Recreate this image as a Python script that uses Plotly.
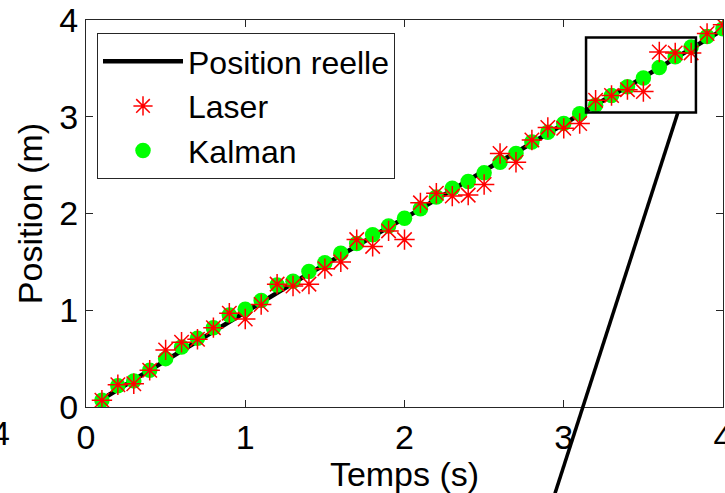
import plotly.graph_objects as go

# ---- data ----
temps = [round(0.1 * i, 1) for i in range(1, 41)]

position_reelle = [0.08, 0.18, 0.28, 0.38, 0.49, 0.59, 0.69, 0.79, 0.89, 0.98,
                   1.08, 1.18, 1.28, 1.38, 1.47, 1.57, 1.67, 1.77, 1.86, 1.95,
                   2.05, 2.15, 2.25, 2.34, 2.44, 2.54, 2.63, 2.73, 2.83, 2.92,
                   3.02, 3.12, 3.22, 3.31, 3.41, 3.51, 3.61, 3.71, 3.80, 3.90]

laser = [0.07, 0.23, 0.24, 0.38, 0.59, 0.67, 0.70, 0.82, 0.97, 0.91,
         1.06, 1.27, 1.25, 1.27, 1.43, 1.50, 1.73, 1.66, 1.82, 1.73,
         2.11, 2.21, 2.18, 2.19, 2.30, 2.62, 2.53, 2.76, 2.89, 2.88,
         2.93, 3.17, 3.22, 3.28, 3.26, 3.67, 3.66, 3.66, 3.86, 3.95]

kalman = [0.07, 0.22, 0.27, 0.38, 0.50, 0.62, 0.71, 0.82, 0.95, 1.01,
          1.10, 1.26, 1.30, 1.40, 1.49, 1.59, 1.69, 1.78, 1.87, 1.95,
          2.05, 2.17, 2.26, 2.33, 2.42, 2.53, 2.62, 2.74, 2.84, 2.93,
          3.03, 3.12, 3.22, 3.31, 3.40, 3.51, 3.62, 3.72, 3.83, 3.91]

tick_vals = [0, 1, 2, 3, 4]
tick_text = ["0", "1", "2", "3", "4"]
x_range = [0, 4]
y_range = [0, 4]

# zoom box and its connector (in data units)
zoom_box_t = [3.14, 3.83]
zoom_box_pos = [3.045, 3.82]
connector_t = [3.717, 2.945]
connector_pos = [3.045, -0.893]

FONT = "Liberation Sans, Arial, Helvetica, sans-serif"
FS = 34

fig = go.Figure()

fig.add_trace(go.Scatter(
    x=temps, y=position_reelle, mode="lines", name="Position reelle",
    line=dict(color="black", width=4.5), legendrank=1))
fig.add_trace(go.Scatter(
    x=temps, y=kalman, mode="markers", name="Kalman",
    marker=dict(symbol="circle", size=15.5, color="#00FF00", line=dict(width=0)),
    legendrank=3))
fig.add_trace(go.Scatter(
    x=temps, y=laser, mode="markers", name="Laser",
    marker=dict(symbol="asterisk-open", size=17, color="#FF0000",
                line=dict(color="#FF0000", width=1.5)),
    legendrank=2))


def to_px(t):
    return (t - x_range[0]) / (x_range[1] - x_range[0])


def to_py(p):
    return (p - y_range[0]) / (y_range[1] - y_range[0])


fig.add_shape(type="rect", xref="x", yref="y",
              x0=zoom_box_t[0], x1=zoom_box_t[1],
              y0=zoom_box_pos[0], y1=zoom_box_pos[1],
              line=dict(color="black", width=2.5), layer="above")
fig.add_shape(type="line", xref="paper", yref="paper",
              x0=to_px(connector_t[0]), y0=to_py(connector_pos[0]),
              x1=to_px(connector_t[1]), y1=to_py(connector_pos[1]),
              line=dict(color="black", width=3.5), layer="above")

# cut-off tick label of the neighbouring panel
fig.add_annotation(text="4", xref="paper", yref="paper",
                   x=-86 / 637, y=-26 / 387, showarrow=False,
                   font=dict(family=FONT, size=FS, color="black"),
                   xanchor="center", yanchor="middle")

axis_common = dict(
    showline=True, linecolor="#262626", linewidth=1, mirror="ticks",
    ticks="inside", ticklen=7, tickwidth=1, tickcolor="#262626",
    showgrid=False, zeroline=False,
    tickvals=tick_vals, ticktext=tick_text,
    tickfont=dict(family=FONT, size=FS, color="black"),
    ticklabeloverflow="allow", automargin=False,
)

fig.update_xaxes(range=x_range, title=dict(text="Temps (s)", standoff=0,
                 font=dict(family=FONT, size=FS, color="black")), **axis_common)
fig.update_yaxes(range=y_range, title=dict(text="Position (m)", standoff=6,
                 font=dict(family=FONT, size=FS, color="black")), **axis_common)

fig.update_layout(
    width=725, height=493,
    margin=dict(l=86, r=2, t=20, b=86, autoexpand=False),
    paper_bgcolor="white", plot_bgcolor="white",
    font=dict(family=FONT, size=FS, color="black"),
    legend=dict(x=11 / 637, y=(407 - 33) / 387, xanchor="left", yanchor="top",
                bgcolor="white", bordercolor="#262626", borderwidth=1,
                font=dict(family=FONT, size=32, color="black"),
                itemwidth=80, traceorder="normal", tracegroupgap=0),
    showlegend=True,
)

fig.write_html("out.html")
